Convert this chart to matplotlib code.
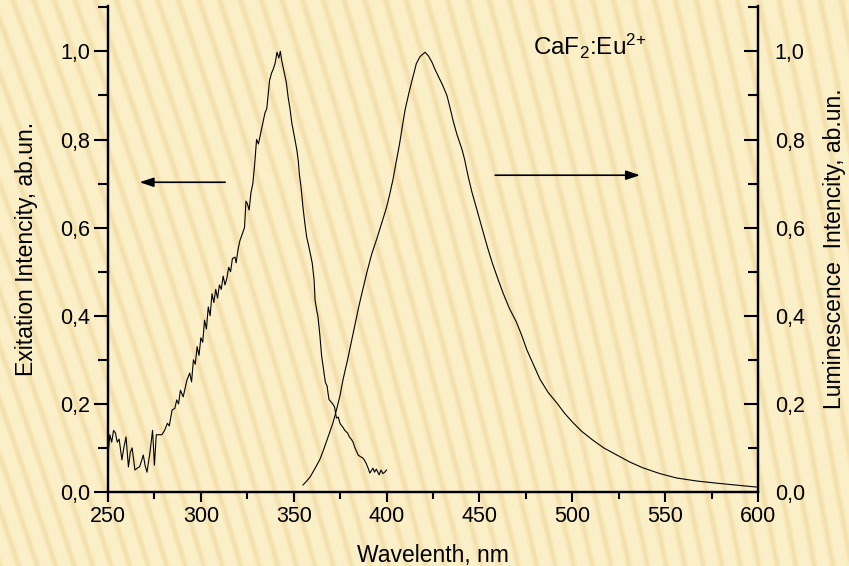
import numpy as np
import matplotlib
matplotlib.use('Agg')
import matplotlib.pyplot as plt
from matplotlib.ticker import MultipleLocator, FuncFormatter

plt.rcParams['font.family'] = ['Liberation Sans', 'DejaVu Sans']
plt.rcParams['mathtext.default'] = 'regular'

# excitation spectrum (left axis)
exc_wl = [250, 251, 252, 253, 254, 255, 256, 257.5, 258.5, 259.7, 261, 262, 263, 264.5, 266, 267, 268,
          269, 270, 271, 272.6, 274, 275, 276, 278, 279, 280.5, 282, 283, 284.5, 286, 287, 288, 289,
          290.5, 292.5, 294, 295, 296, 297, 298, 299, 300, 301, 302, 303, 304, 305, 306, 307, 308, 309,
          310, 311, 312, 313, 314, 315, 316, 317, 318.4, 319, 320, 321, 322.7, 323.5, 324.3, 325, 326,
          327, 327.5, 328, 329, 330, 331, 332, 333, 334.5, 335.5, 337, 338, 339, 340, 341, 342, 342.8,
          343.5, 345, 346, 347, 348, 349, 350, 351.7, 352.5, 353, 354, 355, 356, 357, 358, 359, 360,
          360.5, 361, 361.5, 362.5, 363, 364, 365, 366, 367, 368, 368.5, 369, 370, 371, 372, 373, 374,
          375, 376.5, 377.5, 379, 380, 381, 382, 383, 384.7, 386, 387, 388, 389, 390, 391, 392, 392.7,
          393.5, 394.5, 396, 397, 398, 399, 400]
exc_val = [0.084, 0.13, 0.113, 0.14, 0.134, 0.113, 0.12, 0.073, 0.10, 0.125, 0.057, 0.09, 0.10, 0.05,
           0.055, 0.057, 0.07, 0.084, 0.06, 0.045, 0.09, 0.14, 0.061, 0.13, 0.13, 0.13, 0.14, 0.156, 0.15,
           0.186, 0.19, 0.209, 0.20, 0.231, 0.216, 0.254, 0.27, 0.25, 0.30, 0.29, 0.33, 0.31, 0.35, 0.34,
           0.39, 0.37, 0.42, 0.40, 0.45, 0.43, 0.46, 0.44, 0.47, 0.46, 0.49, 0.47, 0.485, 0.51, 0.50, 0.53,
           0.533, 0.52, 0.55, 0.57, 0.59, 0.60, 0.66, 0.655, 0.64, 0.68, 0.69, 0.70, 0.745, 0.80, 0.79,
           0.81, 0.83, 0.86, 0.87, 0.934, 0.95, 0.96, 0.973, 0.998, 0.985, 1.0, 0.98, 0.95, 0.93, 0.896,
           0.87, 0.837, 0.815, 0.776, 0.75, 0.723, 0.69, 0.646, 0.61, 0.578, 0.56, 0.54, 0.519, 0.50,
           0.48, 0.435, 0.41, 0.40, 0.36, 0.31, 0.28, 0.25, 0.24, 0.224, 0.21, 0.205, 0.20, 0.193, 0.168,
           0.17, 0.155, 0.147, 0.14, 0.134, 0.125, 0.12, 0.113, 0.10, 0.084, 0.08, 0.078, 0.073, 0.065,
           0.055, 0.043, 0.05, 0.054, 0.045, 0.052, 0.039, 0.05, 0.042, 0.045, 0.05]

# luminescence spectrum (right axis)
lum_wl = [355, 357, 358.8, 361, 364, 366, 368.5, 371, 373, 375, 376.5, 379, 382, 385, 387.5, 389.5, 392,
          395, 397.5, 400, 401.5, 403.5, 405, 407, 408.5, 410, 412, 413.7, 415, 416, 418, 420.7, 422.5,
          424.5, 426, 427.7, 430, 432.5, 434, 436, 438, 440.6, 442, 443, 444, 446, 448.7, 452, 454.5, 457,
          460, 462.7, 466, 470, 473, 475.6, 479, 482.6, 487, 491.7, 496, 500.5, 505, 511, 517, 524, 531,
          538, 547, 556, 567, 578, 590, 600]
lum_val = [0.016, 0.025, 0.034, 0.05, 0.073, 0.095, 0.125, 0.155, 0.186, 0.22, 0.254, 0.30, 0.36, 0.42,
           0.465, 0.50, 0.54, 0.578, 0.612, 0.646, 0.672, 0.71, 0.745, 0.79, 0.83, 0.868, 0.905, 0.934,
           0.955, 0.972, 0.988, 0.998, 0.99, 0.975, 0.96, 0.945, 0.925, 0.90, 0.875, 0.84, 0.81, 0.778,
           0.755, 0.735, 0.715, 0.68, 0.64, 0.59, 0.553, 0.519, 0.483, 0.452, 0.418, 0.385, 0.353, 0.322,
           0.29, 0.256, 0.226, 0.202, 0.178, 0.157, 0.138, 0.118, 0.10, 0.084, 0.068, 0.055, 0.042, 0.032,
           0.025, 0.02, 0.015, 0.011]

fig = plt.figure(figsize=(8.49, 5.66), dpi=100)

# striped beige backdrop
bg = fig.add_axes([0, 0, 1, 1], zorder=-5)
yy, xx = np.mgrid[0:566, 0:849]
phase = (xx + (566 - yy) * (0.34 - 0.16 * xx / 849)) / 18.5
s = 0.5 + 0.5 * np.cos(2 * np.pi * phase)
s = s ** 4
light = np.array([252, 240, 201]) / 255.0
dark = np.array([243, 224, 172]) / 255.0
img = light[None, None, :] * (1 - s[..., None]) + dark[None, None, :] * s[..., None]
bg.imshow(img, aspect='auto', interpolation='bilinear')
bg.axis('off')

ax = fig.add_axes([0.1272, 0.1307, 0.7656, 0.8587])
ax.patch.set_alpha(0)
ax.plot(exc_wl, exc_val, color='black', lw=0.8)
ax.set_xlim(250, 600)
ax.set_ylim(0, 1.103)

ax2 = ax.twinx()
ax2.plot(lum_wl, lum_val, color='black', lw=0.8)
ax2.set_ylim(0, 1.103)

comma = FuncFormatter(lambda v, p: ('%.1f' % v).replace('.', ','))
for a in (ax, ax2):
    a.spines['top'].set_visible(False)
    for sp in a.spines.values():
        sp.set_linewidth(1.6)
    a.yaxis.set_major_locator(MultipleLocator(0.2))
    a.yaxis.set_minor_locator(MultipleLocator(0.1))
    a.yaxis.set_major_formatter(comma)

ax.xaxis.set_major_locator(MultipleLocator(50))
ax.xaxis.set_minor_locator(MultipleLocator(25))
ax.tick_params(axis='x', which='both', direction='out', width=1.5, labelsize=15.5, pad=3)
ax.tick_params(axis='x', which='major', length=7)
ax.tick_params(axis='x', which='minor', length=5)
ax.tick_params(axis='y', which='both', direction='out', width=1.5, labelsize=15.5, pad=3)
ax.tick_params(axis='y', which='major', length=10)
ax.tick_params(axis='y', which='minor', length=7)
ax2.tick_params(axis='y', which='both', direction='in', width=1.5, labelsize=15.5, pad=12)
ax2.tick_params(axis='y', which='major', length=10)
ax2.tick_params(axis='y', which='minor', length=7)

ax.set_xlabel('Wavelenth, nm', fontsize=16.5, labelpad=12)
ax.set_ylabel('Exitation Intencity, ab.un.', fontsize=16.5, labelpad=16)
ax2.set_ylabel('Luminescence  Intencity, ab.un.', fontsize=16.5, labelpad=13)

ax.text(509.5, 1.012, 'CaF$_2$:Eu$^{2{+}}$', fontsize=17.5, ha='center', va='center')

ax.annotate('', xy=(265.5, 0.703), xytext=(314.6, 0.703),
            arrowprops=dict(arrowstyle='-|>,head_length=0.6,head_width=0.2', color='black', lw=1.2,
                            mutation_scale=14))
ax.annotate('', xy=(538, 0.719), xytext=(457, 0.719),
            arrowprops=dict(arrowstyle='-|>,head_length=0.6,head_width=0.2', color='black', lw=1.2,
                            mutation_scale=14))

fig.savefig('out.png', dpi=100)
